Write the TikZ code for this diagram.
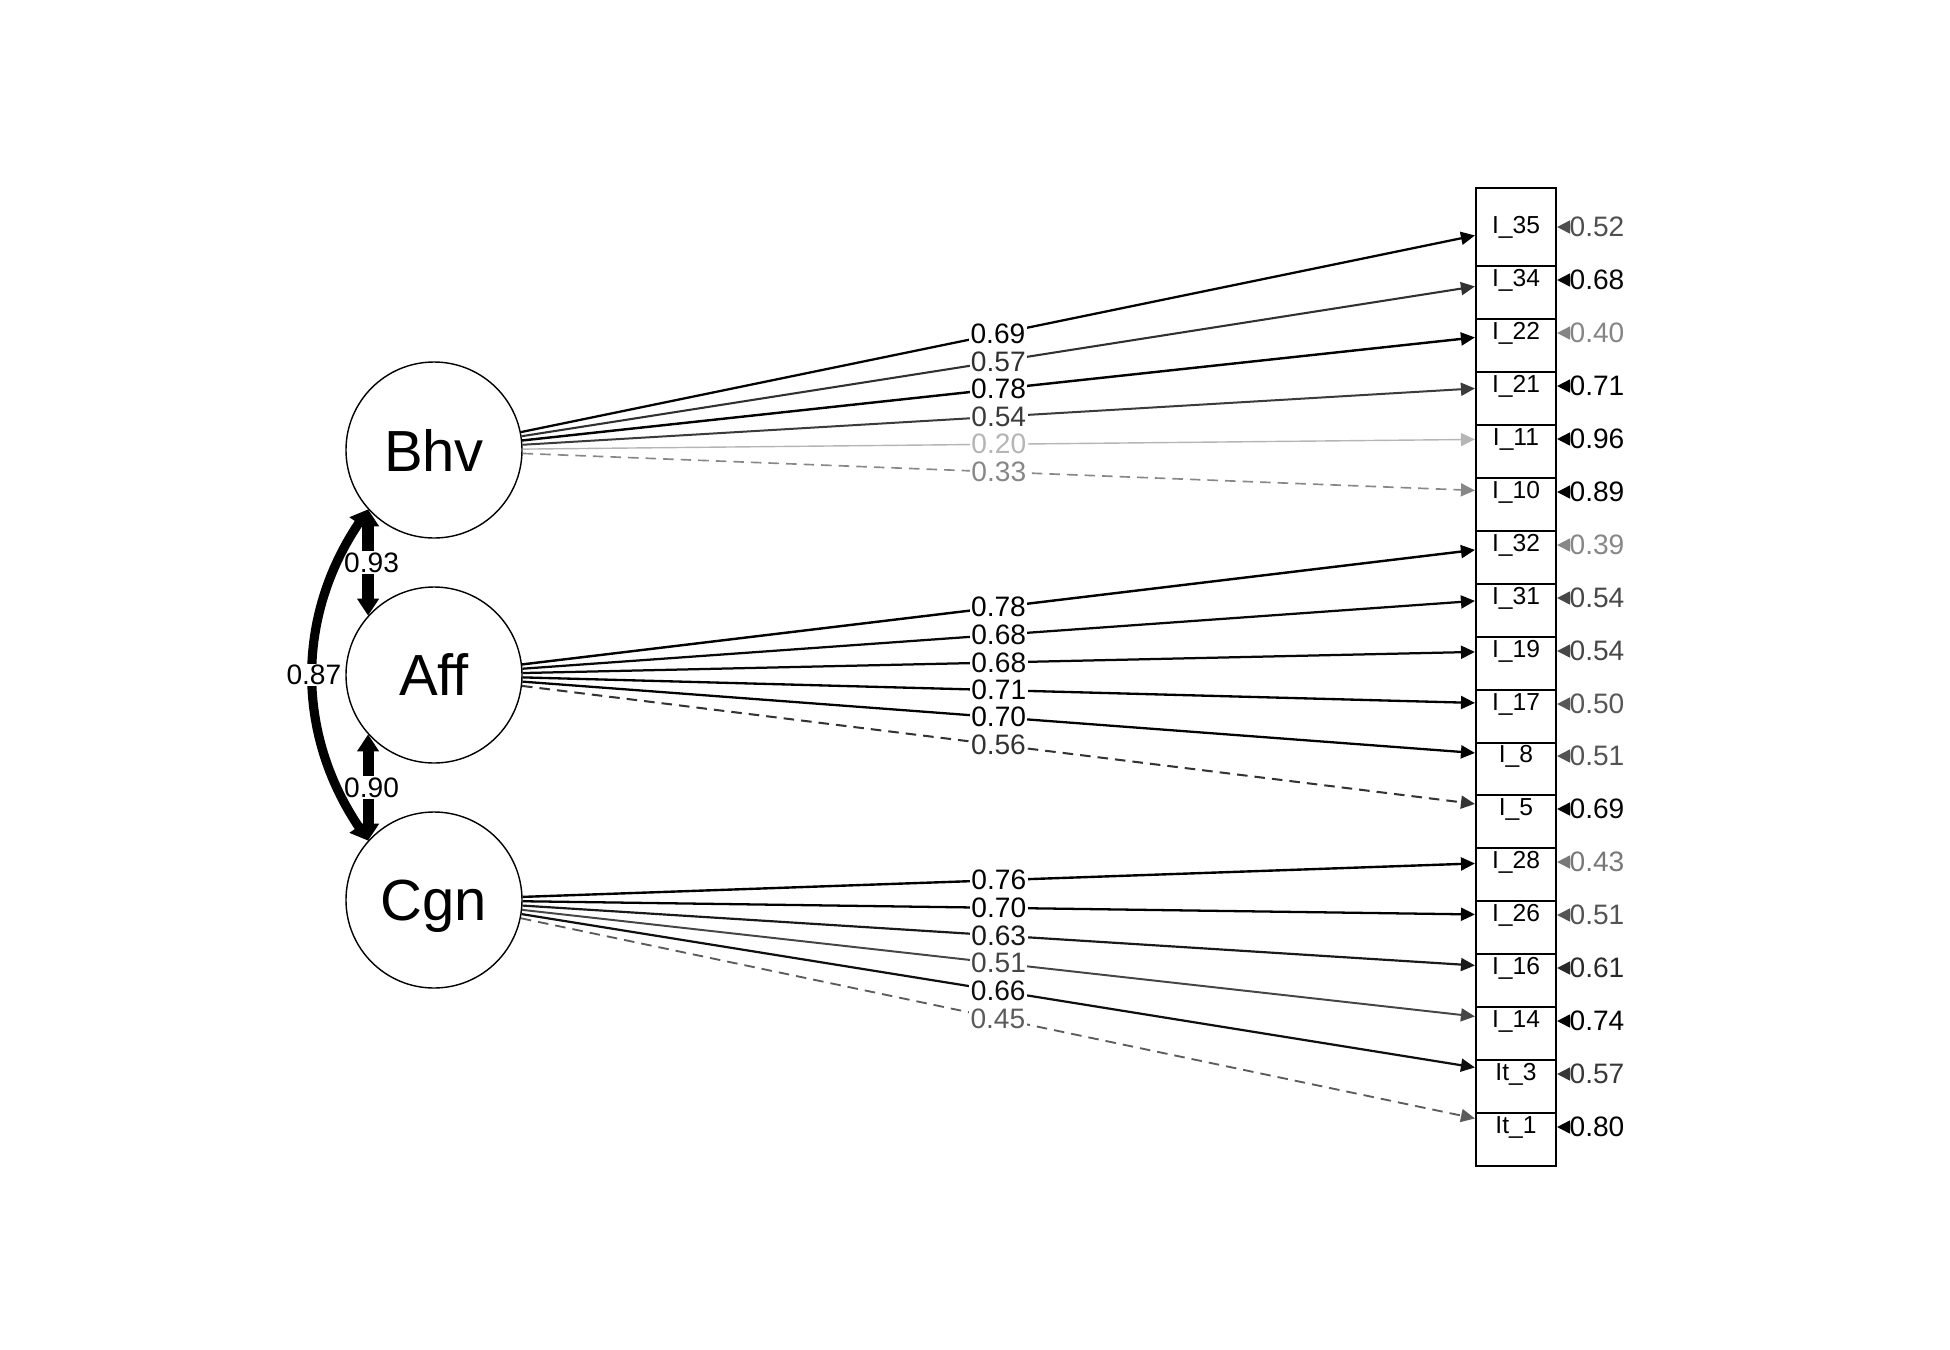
\documentclass[tikz,border=0pt]{standalone}
\usepackage{fontspec}
\setmainfont{Liberation Sans}
\usetikzlibrary{arrows.meta}
\begin{document}
\begin{tikzpicture}[
  latent/.style={circle, draw, line width=0.4pt, minimum size=17.6mm, inner sep=0pt, text depth=0pt, font=\fontsize{16.5}{18}\selectfont},
  item/.style={rectangle, draw, line width=0.6pt, fill=white, minimum width=8mm, minimum height=7.8mm, inner sep=0pt, font=\fontsize{7}{8}\selectfont},
  resid/.style={inner sep=0pt, font=\fontsize{8}{9}\selectfont},
  lbl/.style={fill=white, inner sep=0.4pt, font=\fontsize{8}{9}\selectfont},
  load/.style={-{Triangle[length=1.4mm, width=1.3mm]}},
  fixed/.style={load, dash pattern=on 3pt off 2pt},
  resarrow/.style={-{Triangle[length=1.3mm, width=1.3mm]}, line width=0.5pt},
  cov/.style={{Triangle[length=1.7mm, width=2.1mm]}-{Triangle[length=1.7mm, width=2.1mm]}}]
\useasboundingbox (0,0) rectangle (19.5,-13.5);
\node[latent] (P_0_0) at (4.34,-4.50) {Bhv};
\node[latent] (P_0_1) at (4.34,-6.75) {Aff};
\node[latent] (P_0_2) at (4.34,-9.00) {Cgn};
\node[item] (P_1_17) at (15.16,-11.27) {It\_1};
\node[item] (P_1_16) at (15.16,-10.74) {It\_3};
\node[item] (P_1_15) at (15.16,-10.21) {I\_14};
\node[item] (P_1_14) at (15.16,-9.68) {I\_16};
\node[item] (P_1_13) at (15.16,-9.15) {I\_26};
\node[item] (P_1_12) at (15.16,-8.62) {I\_28};
\node[item] (P_1_11) at (15.16,-8.09) {I\_5};
\node[item] (P_1_10) at (15.16,-7.56) {I\_8};
\node[item] (P_1_9) at (15.16,-7.04) {I\_17};
\node[item] (P_1_8) at (15.16,-6.51) {I\_19};
\node[item] (P_1_7) at (15.16,-5.98) {I\_31};
\node[item] (P_1_6) at (15.16,-5.45) {I\_32};
\node[item] (P_1_5) at (15.16,-4.92) {I\_10};
\node[item] (P_1_4) at (15.16,-4.39) {I\_11};
\node[item] (P_1_3) at (15.16,-3.86) {I\_21};
\node[item] (P_1_2) at (15.16,-3.33) {I\_22};
\node[item] (P_1_1) at (15.16,-2.80) {I\_34};
\node[item] (P_1_0) at (15.16,-2.27) {I\_35};
\node[resid, black!69] (P_2_0) at (15.97,-2.27) {0.52};
\draw[resarrow, black!69] (P_2_0) -- (P_1_0);
\node[resid, black!97] (P_2_1) at (15.97,-2.80) {0.68};
\draw[resarrow, black!97] (P_2_1) -- (P_1_1);
\node[resid, black!48] (P_2_2) at (15.97,-3.33) {0.40};
\draw[resarrow, black!48] (P_2_2) -- (P_1_2);
\node[resid, black] (P_2_3) at (15.97,-3.86) {0.71};
\draw[resarrow, black] (P_2_3) -- (P_1_3);
\node[resid, black] (P_2_4) at (15.97,-4.39) {0.96};
\draw[resarrow, black] (P_2_4) -- (P_1_4);
\node[resid, black] (P_2_5) at (15.97,-4.92) {0.89};
\draw[resarrow, black] (P_2_5) -- (P_1_5);
\node[resid, black!47] (P_2_6) at (15.97,-5.45) {0.39};
\draw[resarrow, black!47] (P_2_6) -- (P_1_6);
\node[resid, black!72] (P_2_7) at (15.97,-5.98) {0.54};
\draw[resarrow, black!72] (P_2_7) -- (P_1_7);
\node[resid, black!72] (P_2_8) at (15.97,-6.51) {0.54};
\draw[resarrow, black!72] (P_2_8) -- (P_1_8);
\node[resid, black!66] (P_2_9) at (15.97,-7.04) {0.50};
\draw[resarrow, black!66] (P_2_9) -- (P_1_9);
\node[resid, black!67] (P_2_10) at (15.97,-7.56) {0.51};
\draw[resarrow, black!67] (P_2_10) -- (P_1_10);
\node[resid, black!98] (P_2_11) at (15.97,-8.09) {0.69};
\draw[resarrow, black!98] (P_2_11) -- (P_1_11);
\node[resid, black!53] (P_2_12) at (15.97,-8.62) {0.43};
\draw[resarrow, black!53] (P_2_12) -- (P_1_12);
\node[resid, black!67] (P_2_13) at (15.97,-9.15) {0.51};
\draw[resarrow, black!67] (P_2_13) -- (P_1_13);
\node[resid, black!84] (P_2_14) at (15.97,-9.68) {0.61};
\draw[resarrow, black!84] (P_2_14) -- (P_1_14);
\node[resid, black] (P_2_15) at (15.97,-10.21) {0.74};
\draw[resarrow, black] (P_2_15) -- (P_1_15);
\node[resid, black!78] (P_2_16) at (15.97,-10.74) {0.57};
\draw[resarrow, black!78] (P_2_16) -- (P_1_16);
\node[resid, black] (P_2_17) at (15.97,-11.27) {0.80};
\draw[resarrow, black] (P_2_17) -- (P_1_17);
\draw[load, black!99, line width=0.65pt] (P_0_0) -- (P_1_0) node[midway, lbl] {0.69};
\draw[load, black!81, line width=0.59pt] (P_0_0) -- (P_1_1) node[midway, lbl] {0.57};
\draw[load, black, line width=0.69pt] (P_0_0) -- (P_1_2) node[midway, lbl] {0.78};
\draw[load, black!77, line width=0.57pt] (P_0_0) -- (P_1_3) node[midway, lbl] {0.54};
\draw[load, black!29, line width=0.4pt] (P_0_0) -- (P_1_4) node[midway, lbl] {0.20};
\draw[fixed, black!47, line width=0.47pt] (P_0_0) -- (P_1_5) node[midway, lbl] {0.33};
\draw[load, black, line width=0.69pt] (P_0_1) -- (P_1_6) node[midway, lbl] {0.78};
\draw[load, black!97, line width=0.64pt] (P_0_1) -- (P_1_7) node[midway, lbl] {0.68};
\draw[load, black!97, line width=0.64pt] (P_0_1) -- (P_1_8) node[midway, lbl] {0.68};
\draw[load, black, line width=0.66pt] (P_0_1) -- (P_1_9) node[midway, lbl] {0.71};
\draw[load, black, line width=0.65pt] (P_0_1) -- (P_1_10) node[midway, lbl] {0.70};
\draw[fixed, black!80, line width=0.58pt] (P_0_1) -- (P_1_11) node[midway, lbl] {0.56};
\draw[load, black, line width=0.68pt] (P_0_2) -- (P_1_12) node[midway, lbl] {0.76};
\draw[load, black, line width=0.65pt] (P_0_2) -- (P_1_13) node[midway, lbl] {0.70};
\draw[load, black!90, line width=0.62pt] (P_0_2) -- (P_1_14) node[midway, lbl] {0.63};
\draw[load, black!73, line width=0.56pt] (P_0_2) -- (P_1_15) node[midway, lbl] {0.51};
\draw[load, black!94, line width=0.63pt] (P_0_2) -- (P_1_16) node[midway, lbl] {0.66};
\draw[fixed, black!64, line width=0.53pt] (P_0_2) -- (P_1_17) node[midway, lbl] {0.45};
\draw[cov, line width=3.2pt] (P_0_0.222) -- (P_0_1.138) node[midway, lbl, xshift=1pt] {0.93};
\draw[cov, line width=3.1pt] (P_0_1.222) -- (P_0_2.138) node[midway, lbl, xshift=1pt] {0.90};
\draw[cov, line width=2.6pt] (P_0_0.222) to[bend right=34] node[midway, lbl] {0.87} (P_0_2.138);
\end{tikzpicture}
\end{document}
